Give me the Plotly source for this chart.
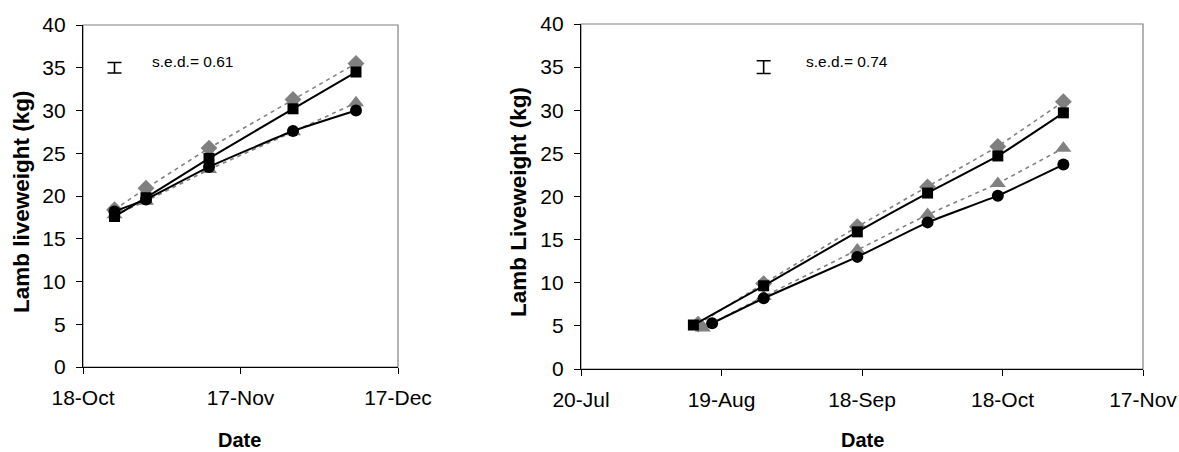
import plotly.graph_objects as go

# ---------------- data ----------------
# Left panel
left_dates = ["2007-10-24", "2007-10-30", "2007-11-11", "2007-11-27", "2007-12-09"]
left_diamond = [18.4, 20.9, 25.6, 31.3, 35.5]
left_square = [17.6, 19.8, 24.4, 30.2, 34.5]
left_triangle = [17.8, 19.4, 23.1, 27.5, 30.9]
left_circle = [18.2, 19.6, 23.4, 27.6, 30.0]
left_tickvals = ["2007-10-18", "2007-11-17", "2007-12-17"]
left_ticktext = ["18-Oct", "17-Nov", "17-Dec"]
left_sed = 0.61
left_sed_date = "2007-10-24"

# Right panel
right_common_dates = ["2007-08-28", "2007-09-17", "2007-10-02", "2007-10-17", "2007-10-31"]
right_square_dates = ["2007-08-13"] + right_common_dates
right_diamond_dates = ["2007-08-14"] + right_common_dates
right_triangle_dates = ["2007-08-15"] + right_common_dates
right_circle_dates = ["2007-08-17"] + right_common_dates
right_square = [5.1, 9.65, 15.9, 20.4, 24.7, 29.7]
right_diamond = [5.2, 9.9, 16.5, 21.1, 25.8, 31.0]
right_triangle = [4.75, 8.4, 13.8, 17.9, 21.5, 25.6]
right_circle = [5.3, 8.2, 13.0, 17.0, 20.1, 23.7]
right_tickvals = ["2007-07-20", "2007-08-19", "2007-09-18", "2007-10-18", "2007-11-17"]
right_ticktext = ["20-Jul", "19-Aug", "18-Sep", "18-Oct", "17-Nov"]
right_sed = 0.74
right_sed_date = "2007-08-28"

sed_level = 35
y_ticks = [0, 5, 10, 15, 20, 25, 30, 35, 40]

# ---------------- styling ----------------
W, H = 1179, 452
FONT = "Liberation Sans, Arial, sans-serif"
GRAY = "#808080"
BLACK = "#000000"

fig = go.Figure()


def add_panel(xa, ya, series):
    for dates, vals, sym, col, dash, size, smooth in series:
        line = dict(color=col, width=2 if col == BLACK else 1.6, dash=dash)
        if smooth:
            line.update(shape="spline", smoothing=0.4)
        fig.add_trace(go.Scatter(
            x=dates, y=vals, mode="lines+markers",
            line=line,
            marker=dict(symbol=sym, color=col, size=size, line=dict(width=0)),
            xaxis=xa, yaxis=ya, showlegend=False, hoverinfo="skip",
        ))


add_panel("x", "y", [
    (left_dates, left_diamond, "diamond", GRAY, "4px,4px", 13, False),
    (left_dates, left_triangle, "triangle-up", GRAY, "4px,4px", 14, False),
    (left_dates, left_square, "square", BLACK, "solid", 11, True),
    (left_dates, left_circle, "circle", BLACK, "solid", 12, True),
])
add_panel("x2", "y2", [
    (right_diamond_dates, right_diamond, "diamond", GRAY, "4px,4px", 13, False),
    (right_triangle_dates, right_triangle, "triangle-up", GRAY, "4px,4px", 14, False),
    (right_square_dates, right_square, "square", BLACK, "solid", 11, True),
    (right_circle_dates, right_circle, "circle", BLACK, "solid", 12, True),
])

# s.e.d. bars
for xa, ya, d, s in [("x", "y", left_sed_date, left_sed), ("x2", "y2", right_sed_date, right_sed)]:
    fig.add_trace(go.Scatter(
        x=[d], y=[sed_level], mode="markers",
        marker=dict(size=1, color="rgba(0,0,0,0)"),
        error_y=dict(type="data", array=[s], color=BLACK, thickness=1.6, width=7),
        xaxis=xa, yaxis=ya, showlegend=False, hoverinfo="skip",
    ))

tickfont = dict(family=FONT, size=21, color=BLACK)

xaxis_common = dict(
    type="date", showgrid=False, zeroline=False, showline=True, linecolor=BLACK,
    linewidth=1.2, ticks="outside", ticklen=6, tickcolor=BLACK, tickwidth=1.2,
    tickfont=tickfont, ticklabelstandoff=6, automargin=False,
)
yaxis_common = dict(
    range=[0, 40], tickvals=y_ticks, showgrid=False, zeroline=False, showline=True,
    linecolor=BLACK, linewidth=1.2, ticks="outside", ticklen=6, tickcolor=BLACK,
    tickwidth=1.2, tickfont=tickfont, ticklabelstandoff=6, automargin=False,
)

fig.update_layout(
    width=W, height=H,
    margin=dict(l=0, r=0, t=0, b=0, pad=0, autoexpand=False),
    paper_bgcolor="white", plot_bgcolor="white",
    font=dict(family=FONT, color=BLACK),
    xaxis=dict(xaxis_common, domain=[83 / W, 398 / W],
               range=[left_tickvals[0], left_tickvals[-1]],
               tickvals=left_tickvals, ticktext=left_ticktext, anchor="y"),
    yaxis=dict(yaxis_common, domain=[1 - 367 / H, 1 - 25 / H], anchor="x"),
    xaxis2=dict(xaxis_common, domain=[581 / W, 1143 / W],
                range=[right_tickvals[0], right_tickvals[-1]],
                tickvals=right_tickvals, ticktext=right_ticktext, anchor="y2"),
    yaxis2=dict(yaxis_common, domain=[1 - 369 / H, 1 - 24 / H], anchor="x2"),
)

# gray frame (top and right edges)
for xr, yr in [("x domain", "y domain"), ("x2 domain", "y2 domain")]:
    fig.add_shape(type="rect", xref=xr, yref=yr, x0=0, x1=1, y0=0, y1=1,
                  line=dict(color=GRAY, width=1.2), layer="below")

# annotations
ann = [
    dict(text="<b>Lamb liveweight (kg)</b>", x=22 / W, y=1 - 202 / H, textangle=-90,
         font=dict(size=22.5, family=FONT, color=BLACK)),
    dict(text="<b>Lamb Liveweight (kg)</b>", x=519 / W, y=1 - 202 / H, textangle=-90,
         font=dict(size=22.5, family=FONT, color=BLACK)),
    dict(text="<b>Date</b>", x=240 / W, y=1 - 440 / H,
         font=dict(size=20, family=FONT, color=BLACK)),
    dict(text="<b>Date</b>", x=862 / W, y=1 - 440 / H,
         font=dict(size=20, family=FONT, color=BLACK)),
]
for a in ann:
    fig.add_annotation(xref="paper", yref="paper", showarrow=False, borderpad=0,
                       xanchor="center", yanchor="middle", **a)

fig.add_annotation(xref="paper", yref="paper", x=150 / W, y=1 - 62 / H,
                   text=f"s.e.d.= {left_sed:.2f}", showarrow=False,
                   xanchor="left", yanchor="middle",
                   font=dict(size=15.5, family=FONT, color=BLACK))
fig.add_annotation(xref="paper", yref="paper", x=804 / W, y=1 - 62 / H,
                   text=f"s.e.d.= {right_sed:.2f}", showarrow=False,
                   xanchor="left", yanchor="middle",
                   font=dict(size=15.5, family=FONT, color=BLACK))

fig.write_html(
    "out.html",
    config={"displayModeBar": False},
    post_script="document.body.style.margin='0';document.body.style.overflow='hidden';",
)
